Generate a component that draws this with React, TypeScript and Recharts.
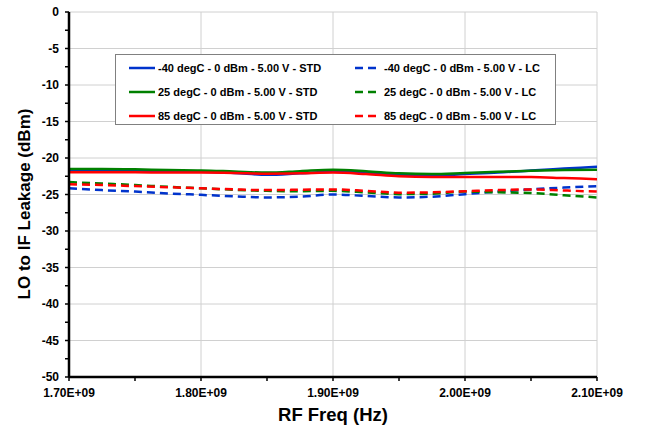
import { CartesianGrid, Legend, Line, LineChart, XAxis, YAxis } from "recharts";

const FREQS = [
  1.7e9, 1.725e9, 1.75e9, 1.775e9, 1.8e9, 1.825e9, 1.85e9, 1.875e9, 1.9e9, 1.925e9, 1.95e9, 1.975e9, 2.0e9, 2.025e9,
  2.05e9, 2.075e9, 2.1e9,
];

const STD_M40 = [-21.6, -21.65, -21.7, -21.8, -21.9, -22.05, -22.3, -22.1, -21.9, -22.0, -22.3, -22.4, -22.2, -22.0, -21.7, -21.45, -21.2];
const STD_25 = [-21.5, -21.5, -21.55, -21.65, -21.7, -21.85, -22.0, -21.8, -21.6, -21.8, -22.1, -22.2, -22.05, -21.9, -21.75, -21.65, -21.6];
const STD_85 = [-21.95, -21.95, -21.95, -22.0, -22.0, -22.05, -22.15, -22.1, -22.0, -22.2, -22.5, -22.6, -22.6, -22.6, -22.6, -22.75, -22.9];
const LC_M40 = [-24.15, -24.4, -24.6, -24.85, -25.05, -25.25, -25.4, -25.3, -25.0, -25.2, -25.4, -25.3, -24.95, -24.6, -24.3, -24.05, -23.85];
const LC_25 = [-23.3, -23.5, -23.7, -23.95, -24.15, -24.35, -24.5, -24.55, -24.5, -24.7, -24.95, -24.9, -24.6, -24.7, -24.8, -25.1, -25.4];
const LC_85 = [-23.6, -23.7, -23.85, -24.0, -24.15, -24.3, -24.4, -24.35, -24.3, -24.5, -24.75, -24.7, -24.55, -24.4, -24.3, -24.45, -24.6];

const X_TICKS = [1.7e9, 1.75e9, 1.8e9, 1.85e9, 1.9e9, 1.95e9, 2.0e9, 2.05e9, 2.1e9];
const X_GRID = [1.7e9, 1.8e9, 1.9e9, 2.0e9, 2.1e9];
const Y_TICKS = [0, -2.5, -5, -7.5, -10, -12.5, -15, -17.5, -20, -22.5, -25, -27.5, -30, -32.5, -35, -37.5, -40, -42.5, -45, -47.5, -50];
const Y_GRID = [0, -5, -10, -15, -20, -25, -30, -35, -40, -45, -50];

const SERIES = [
  { key: "std_m40", name: "-40 degC - 0 dBm - 5.00 V - STD", values: STD_M40, color: "#0033cc", dashed: false },
  { key: "std_25", name: "25 degC - 0 dBm - 5.00 V - STD", values: STD_25, color: "#008000", dashed: false },
  { key: "std_85", name: "85 degC - 0 dBm - 5.00 V - STD", values: STD_85, color: "#ff0000", dashed: false },
  { key: "lc_m40", name: "-40 degC - 0 dBm - 5.00 V - LC", values: LC_M40, color: "#0033cc", dashed: true },
  { key: "lc_25", name: "25 degC - 0 dBm - 5.00 V - LC", values: LC_25, color: "#008000", dashed: true },
  { key: "lc_85", name: "85 degC - 0 dBm - 5.00 V - LC", values: LC_85, color: "#ff0000", dashed: true },
];

const data = FREQS.map((f, i) => {
  const row: Record<string, number> = { freq: f };
  SERIES.forEach((s) => (row[s.key] = s.values[i]));
  return row;
});

const FONT = "'Liberation Sans', Arial, sans-serif";

function YTick({ x, y, payload }: any) {
  if (payload.value % 5 !== 0) return null;
  return (
    <text x={x} y={y} dy={4} textAnchor="end" fontSize={12} fontWeight="bold" fill="#000" fontFamily={FONT}>
      {payload.value}
    </text>
  );
}

function XTick({ x, y, payload }: any) {
  const v = payload.value / 1e9;
  if (Math.abs(Math.round(v * 10) - v * 10) > 1e-6) return null;
  return (
    <text x={x} y={y} dy={14} textAnchor="middle" fontSize={12} fontWeight="bold" fill="#000" fontFamily={FONT}>
      {v.toFixed(2) + "E+09"}
    </text>
  );
}

// axis title drawn by hand so it sits where the original puts it
function YTitle() {
  const cx = 30;
  const cy = 204;
  return (
    <text
      x={cx}
      y={cy}
      transform={`rotate(-90 ${cx} ${cy})`}
      textAnchor="middle"
      fontSize={17}
      fontWeight="bold"
      fill="#000"
      fontFamily={FONT}
    >
      LO to IF Leakage (dBm)
    </text>
  );
}

function LegendBox() {
  const item = (s: (typeof SERIES)[number]) => (
    <div key={s.key} style={{ display: "flex", alignItems: "center", height: 24 }}>
      <svg width={28} height={6} style={{ marginRight: 2 }}>
        <line x1={1} y1={3} x2={27} y2={3} stroke={s.color} strokeWidth={2.5} strokeDasharray={s.dashed ? "8 5" : undefined} />
      </svg>
      <span>{s.name}</span>
    </div>
  );
  return (
    <div
      style={{
        position: "absolute",
        left: 115,
        top: 54,
        width: 441,
        height: 71,
        border: "1px solid #808080",
        background: "#fff",
        boxSizing: "border-box",
        display: "flex",
        padding: "0 0 0 12px",
        fontFamily: FONT,
        fontSize: 11,
        fontWeight: "bold",
        color: "#000",
      }}
    >
      <div style={{ width: 226, paddingTop: 1 }}>{SERIES.slice(0, 3).map(item)}</div>
      <div style={{ paddingTop: 1 }}>{SERIES.slice(3).map(item)}</div>
    </div>
  );
}

export default function App() {
  return (
    <div style={{ position: "absolute", left: 0, top: 0, width: 647, height: 427, background: "#fff" }}>
      <LineChart width={647} height={427} data={data} margin={{ top: 12, right: 50, left: 0, bottom: 0 }}>
        <CartesianGrid stroke="#d0d0d0" strokeWidth={1} horizontalValues={Y_GRID} verticalValues={X_GRID} />
        <XAxis
          dataKey="freq"
          type="number"
          domain={[1.7e9, 2.1e9]}
          ticks={X_TICKS}
          interval={0}
          height={50}
          tick={<XTick />}
          tickSize={4}
          tickMargin={2}
          axisLine={{ stroke: "#000", strokeWidth: 2.5 }}
          tickLine={{ stroke: "#000", strokeWidth: 1.5 }}
          label={{ value: "RF Freq (Hz)", position: "insideBottom", offset: 6, fontSize: 18.5, fontWeight: "bold", fill: "#000", fontFamily: FONT }}
        />
        <YAxis
          type="number"
          domain={[-50, 0]}
          ticks={Y_TICKS}
          interval={0}
          width={69}
          tick={<YTick />}
          tickSize={4}
          tickMargin={6}
          axisLine={{ stroke: "#000", strokeWidth: 2.5 }}
          tickLine={{ stroke: "#000", strokeWidth: 1.5 }}
          label={<YTitle />}
        />
        <Legend content={() => null} />
        {SERIES.map((s) => (
          <Line
            key={s.key}
            dataKey={s.key}
            name={s.name}
            type="monotone"
            stroke={s.color}
            strokeWidth={2.5}
            strokeDasharray={s.dashed ? "8 5" : undefined}
            dot={false}
            activeDot={false}
            isAnimationActive={false}
          />
        ))}
      </LineChart>
      <LegendBox />
    </div>
  );
}
